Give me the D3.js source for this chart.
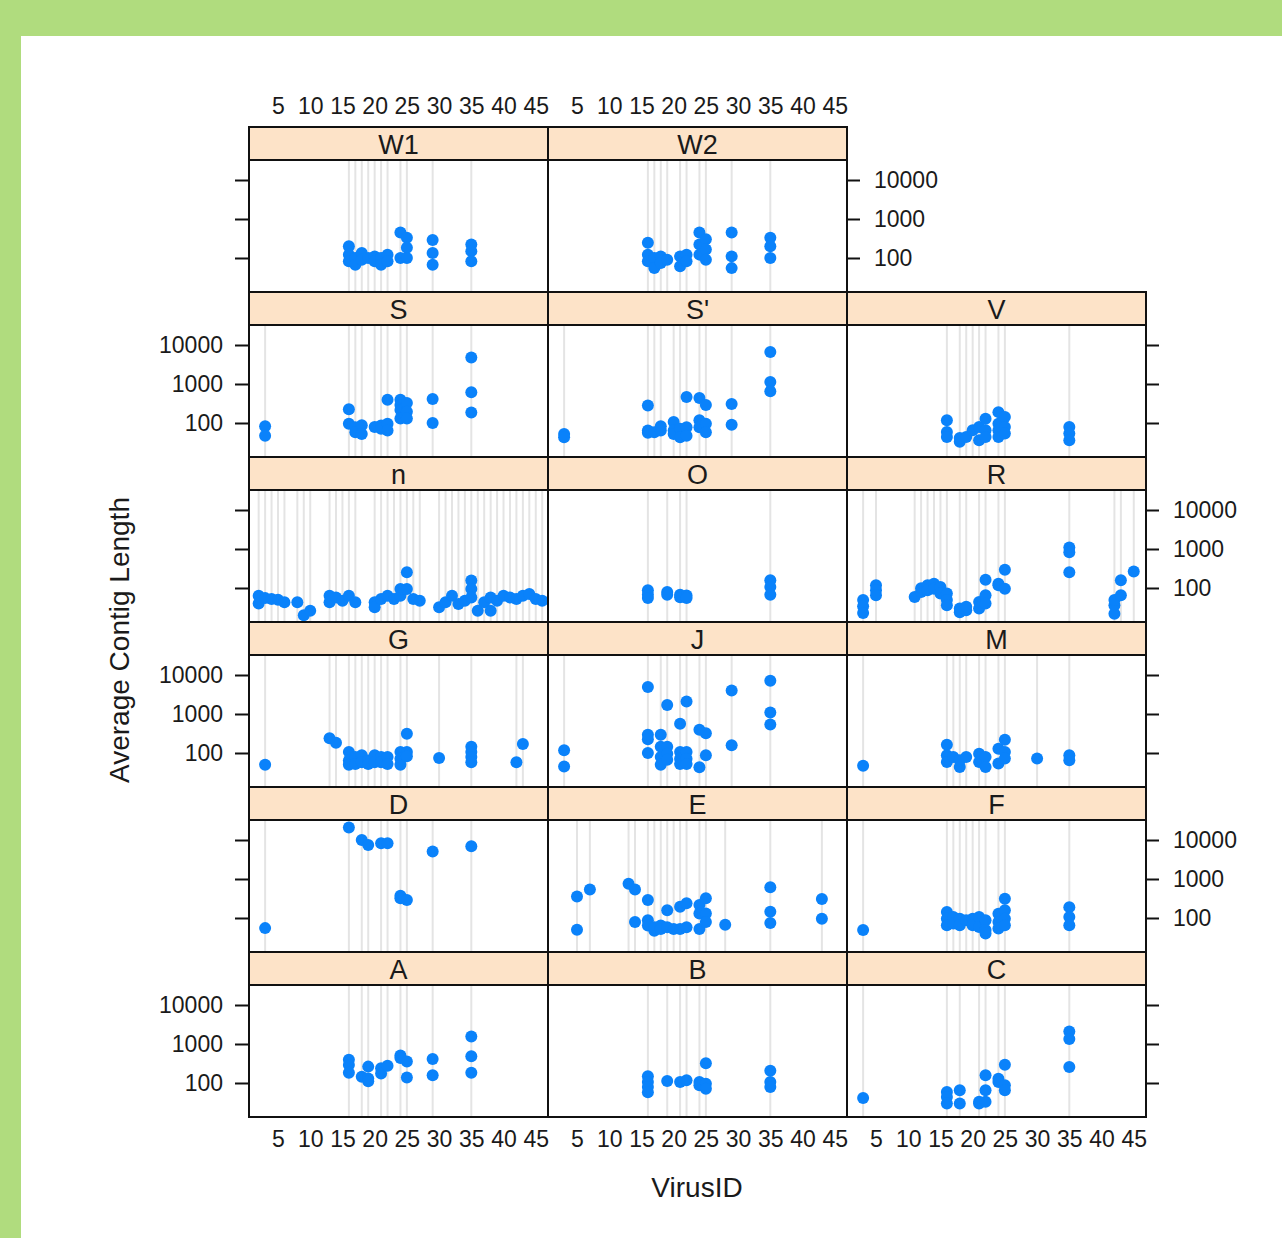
<!DOCTYPE html>
<html>
<head>
<meta charset="utf-8">
<script src="https://cdn.jsdelivr.net/npm/d3@7"></script>
<style>
  body { margin: 0; background: #fff; }
  svg text { font-family: "Liberation Sans", Arial, sans-serif; fill: #1a1a1a; }
</style>
</head>
<body>
<svg id="chart" width="1282" height="1238"></svg>
<script>
// panels in lattice order: bottom-left first, three per row
const panels = ['A', 'B', 'C', 'D', 'E', 'F', 'G', 'J', 'M', 'n', 'O', 'R', 'S', "S'", 'V', 'W1', 'W2'];

const xTicks = [5, 10, 15, 20, 25, 30, 35, 40, 45];
const yTicks = [100, 1000, 10000];

// [VirusID, average contig length]
const dataA = [[16,395],[16,290],[16,183],[18,144],[19,263],[19,130],[19,111],[21,238],[21,176],[22,275],[24,505],[24,437],[25,357],[25,138],[29,410],[29,159],[35,1550],[35,483],[35,183]];
const dataB = [[16,150],[16,106],[16,79],[16,58],[19,113],[21,106],[22,117],[24,106],[24,87],[25,322],[25,96],[25,71],[35,207],[35,106],[35,79]];
const dataC = [[3,41],[16,59],[16,44],[16,30],[18,65],[18,30],[21,33],[21,30],[22,157],[22,65],[22,33],[24,129],[24,106],[25,294],[25,87],[25,65],[35,2090],[35,1350],[35,256]];
const dataD = [[3,55],[16,21000],[18,10000],[19,7400],[21,8200],[22,8200],[24,370],[24,322],[25,290],[29,5100],[35,6900]];
const dataE = [[5,357],[5,50],[7,535],[13,755],[14,535],[14,79],[16,290],[16,87],[16,64],[17,47],[17,58],[18,64],[18,52],[19,159],[19,58],[20,52],[21,195],[21,52],[22,238],[22,58],[24,215],[24,130],[24,52],[25,322],[25,130],[25,79],[28,67],[35,615],[35,144],[35,74],[43,305],[43,96]];
const dataF = [[3,49],[16,142],[16,96],[16,65],[17,106],[17,72],[18,96],[18,65],[19,87],[20,96],[20,65],[21,106],[21,59],[22,87],[22,49],[22,40],[24,129],[24,79],[24,54],[25,310],[25,157],[25,96],[25,65],[35,190],[35,106],[35,65]];
const dataG = [[3,50],[13,238],[14,183],[16,106],[16,64],[16,50],[17,79],[17,52],[18,87],[18,58],[19,64],[19,52],[20,87],[20,58],[21,79],[21,58],[22,79],[22,52],[24,106],[24,71],[24,50],[25,310],[25,106],[25,82],[30,74],[35,144],[35,106],[35,79],[35,58],[42,58],[43,169]];
const dataJ = [[3,117],[3,45],[16,4900],[16,292],[16,224],[16,100],[18,292],[18,144],[18,79],[18,50],[19,1690],[19,144],[19,96],[19,67],[21,565],[21,106],[21,71],[21,52],[22,2080],[22,106],[22,71],[22,52],[24,395],[24,43],[25,322],[25,87],[29,4000],[29,159],[35,7100],[35,1090],[35,535]];
const dataM = [[3,47],[16,163],[16,87],[16,59],[17,79],[18,44],[18,65],[19,79],[21,96],[21,59],[22,79],[22,44],[24,129],[24,54],[25,219],[25,106],[25,72],[30,72],[35,87],[35,65]];
const datan = [[2,63],[2,40],[3,55],[4,52],[5,50],[6,43],[8,43],[9,20],[10,26],[13,63],[13,43],[14,57],[15,47],[16,63],[17,43],[20,43],[20,32],[21,52],[22,63],[23,52],[24,63],[24,94],[25,254],[25,94],[26,52],[27,47],[30,32],[31,43],[32,63],[33,39],[34,47],[35,155],[35,94],[35,57],[36,26],[37,43],[38,26],[38,57],[39,47],[40,63],[41,57],[42,52],[43,63],[44,70],[45,52],[46,47]];
const dataO = [[16,87],[16,67],[16,55],[19,79],[19,67],[21,67],[21,58],[22,64],[22,55],[35,159],[35,106],[35,67]];
const dataR = [[3,49],[3,34],[3,23],[5,117],[5,87],[5,65],[11,59],[12,79],[12,98],[13,117],[13,87],[14,129],[14,96],[15,106],[15,72],[16,72],[16,49],[16,36],[18,30],[18,24],[19,27],[19,33],[21,30],[21,44],[22,65],[22,40],[22,163],[24,129],[24,117],[25,292],[25,96],[35,1100],[35,825],[35,255],[42,22],[42,36],[42,49],[43,65],[43,157],[45,265]];
const dataS = [[3,82],[3,47],[16,224],[16,96],[17,78],[17,58],[18,87],[18,52],[20,79],[21,86],[21,71],[22,395],[22,96],[22,64],[24,395],[24,290],[24,215],[24,130],[25,325],[25,195],[25,130],[29,410],[29,100],[35,4800],[35,615],[35,185]];
const dataSp = [[3,52],[3,43],[16,280],[16,64],[16,56],[17,58],[18,64],[18,82],[20,106],[20,64],[20,52],[21,71],[21,43],[22,465],[22,78],[22,47],[24,435],[24,117],[24,78],[25,290],[25,96],[25,58],[29,305],[29,90],[35,6600],[35,1130],[35,655]];
const dataV = [[16,117],[16,59],[16,44],[18,33],[18,41],[19,44],[20,65],[21,79],[21,36],[22,129],[22,65],[22,44],[24,190],[24,96],[24,65],[24,44],[25,142],[25,79],[25,54],[35,79],[35,54],[35,36]];
const dataW1 = [[16,200],[16,122],[16,82],[17,100],[17,67],[18,135],[18,90],[19,100],[20,110],[20,82],[21,100],[21,67],[22,122],[22,82],[24,450],[24,100],[25,330],[25,182],[25,100],[29,290],[29,135],[29,67],[35,223],[35,150],[35,82]];
const dataW2 = [[16,245],[16,122],[16,82],[17,100],[17,55],[18,110],[18,74],[19,90],[21,110],[21,61],[22,122],[22,82],[24,450],[24,223],[24,122],[25,301],[25,165],[25,90],[29,450],[29,110],[29,55],[35,330],[35,200],[35,100]];

const panelData = {
  'A': dataA, 'B': dataB, 'C': dataC, 'D': dataD, 'E': dataE, 'F': dataF,
  'G': dataG, 'J': dataJ, 'M': dataM, 'n': datan, 'O': dataO, 'R': dataR,
  'S': dataS, "S'": dataSp, 'V': dataV, 'W1': dataW1, 'W2': dataW2
};

const svg = d3.select('#chart');

// green frame around the figure
svg.append('rect').attr('width', 1282).attr('height', 1238).attr('fill', '#b0dc7e');
svg.append('rect').attr('x', 21).attr('y', 36).attr('width', 1261).attr('height', 1202).attr('fill', '#fff');

const gridLeft = 249;
const gridTop = 127;
const panelW = 299;
const stripH = 33;
const panelH = 132;
const rowStep = 165;
const nRows = 6;

const xScale = d3.scaleLinear().domain([0.5, 46.9]).range([0, panelW]);
const yScale = d3.scaleLog().domain([Math.pow(10, 1.128), Math.pow(10, 4.513)]).range([panelH, 0]);

const tickFont = '23px';

panels.forEach((name, i) => {
  const col = i % 3;
  const rowFromBottom = Math.floor(i / 3);
  const rowFromTop = nRows - 1 - rowFromBottom;
  const x0 = gridLeft + col * panelW;
  const sy = gridTop + rowFromTop * rowStep;
  const py = sy + stripH;

  const g = svg.append('g').attr('transform', 'translate(' + x0 + ',' + py + ')');
  const data = panelData[name];

  // reference lines at each virus present in the panel
  const ids = Array.from(new Set(data.map(d => d[0])));
  g.selectAll('line.ref')
    .data(ids)
    .enter()
    .append('line')
    .attr('class', 'ref')
    .attr('x1', d => xScale(d))
    .attr('x2', d => xScale(d))
    .attr('y1', 0)
    .attr('y2', panelH)
    .attr('stroke', '#e4e4e4')
    .attr('stroke-width', 2);

  g.append('clipPath').attr('id', 'clip' + i)
    .append('rect').attr('width', panelW).attr('height', panelH);

  g.append('g')
    .attr('clip-path', 'url(#clip' + i + ')')
    .selectAll('circle')
    .data(data)
    .enter()
    .append('circle')
    .attr('cx', d => xScale(d[0]))
    .attr('cy', d => yScale(d[1]))
    .attr('r', 6)
    .attr('fill', '#0a82fa');

  g.append('rect')
    .attr('width', panelW).attr('height', panelH)
    .attr('fill', 'none').attr('stroke', '#111').attr('stroke-width', 2);

  // strip
  svg.append('rect')
    .attr('x', x0).attr('y', sy)
    .attr('width', panelW).attr('height', stripH)
    .attr('fill', '#fde3c8').attr('stroke', '#111').attr('stroke-width', 2);
  svg.append('text')
    .attr('x', x0 + panelW / 2).attr('y', sy + 27)
    .attr('text-anchor', 'middle')
    .style('font-size', '27px')
    .text(name);

  const labelLeft = rowFromBottom % 2 === 0;

  // left axis on the first column
  if (col === 0) {
    const ax = d3.axisLeft(yScale).tickValues(yTicks).tickSize(14).tickPadding(12)
      .tickFormat(labelLeft ? d3.format('d') : '');
    const a = g.append('g').call(ax);
    a.select('.domain').remove();
    a.selectAll('line').attr('stroke', '#111').attr('stroke-width', 2);
    a.selectAll('text').style('font-size', tickFont);
  }

  // right axis on the last panel of each row
  const lastInRow = (col === 2) || (i === panels.length - 1);
  if (lastInRow) {
    const ax = d3.axisRight(yScale).tickValues(yTicks).tickSize(13).tickPadding(14)
      .tickFormat(labelLeft ? '' : d3.format('d'));
    const a = g.append('g').attr('transform', 'translate(' + panelW + ',0)').call(ax);
    a.select('.domain').remove();
    a.selectAll('line').attr('stroke', '#111').attr('stroke-width', 2);
    a.selectAll('text').style('font-size', tickFont);
  }

  // bottom labels under the first row, top labels above the last row
  if (rowFromBottom === 0) {
    const a = g.append('g').attr('transform', 'translate(0,' + panelH + ')')
      .call(d3.axisBottom(xScale).tickValues(xTicks).tickSize(0).tickPadding(14));
    a.select('.domain').remove();
    a.selectAll('text').style('font-size', tickFont);
  }
  if (rowFromTop === 0) {
    const a = svg.append('g').attr('transform', 'translate(' + x0 + ',' + sy + ')')
      .call(d3.axisTop(xScale).tickValues(xTicks).tickSize(0).tickPadding(13));
    a.select('.domain').remove();
    a.selectAll('text').style('font-size', tickFont);
  }
});

svg.append('text')
  .attr('transform', 'translate(129,640) rotate(-90)')
  .attr('text-anchor', 'middle')
  .style('font-size', '28px')
  .text('Average Contig Length');

svg.append('text')
  .attr('x', 697).attr('y', 1197)
  .attr('text-anchor', 'middle')
  .style('font-size', '28px')
  .text('VirusID');
</script>
</body>
</html>
